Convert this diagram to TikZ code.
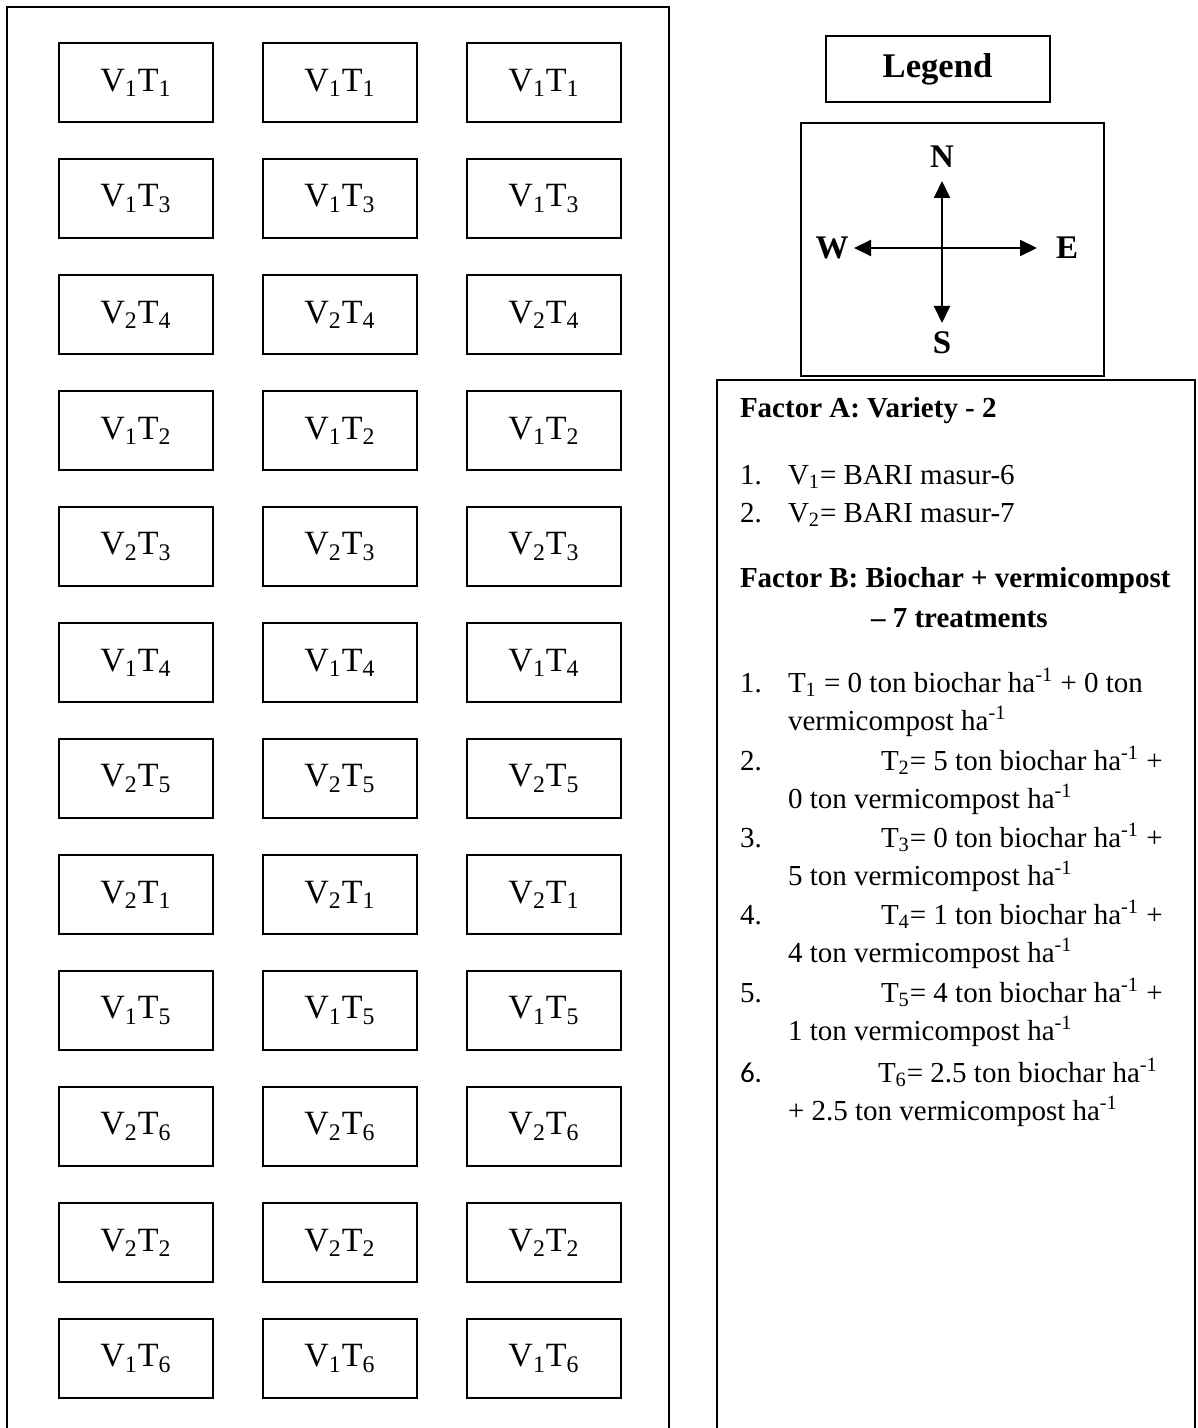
\documentclass[tikz,border=0pt]{standalone}
\usepackage{fontspec}
\setmainfont{Liberation Serif}
\newfontfamily\calibri{Carlito}
\usetikzlibrary{arrows.meta}

\begin{document}
\begin{tikzpicture}[x=0.5pt, y=-0.5pt, line width=1pt,
		plotbox/.style={draw, minimum width=77pt, minimum height=39.5pt, inner sep=0pt, font=\fontsize{17}{20}\selectfont},
		txt/.style={anchor=base west, inner sep=0pt, font=\fontsize{14.5}{17}\selectfont},
		head/.style={txt, font=\fontsize{14.5}{17}\selectfont\bfseries},
		dir/.style={inner sep=0pt, font=\fontsize{16.5}{19}\selectfont\bfseries}]
	\useasboundingbox (0,0) rectangle (1198,1428);
	
	% Field Frame
	\draw (7,1428) -- (7,7) -- (669,7) -- (669,1428);
	
	% Plots (3 replications per row)
	\foreach \v/\t [count=\r from 0] in {1/1, 1/3, 2/4, 1/2, 2/3, 1/4, 2/5, 2/1, 1/5, 2/6, 2/2, 1/6} {
		\foreach \c/\x in {1/136, 2/340, 3/544} {
			\node[plotbox] (p\r-\c) at (\x, {82.5+116*\r}) {V\textsubscript{\v}T\textsubscript{\t}};
		}
	}
	
	% Legend Title
	\node[draw, minimum width=112pt, minimum height=33pt, inner sep=0pt, font=\fontsize{17.3}{20}\selectfont\bfseries] (legend) at (937.5,69.5) {Legend};
	
	% Compass
	\draw[line width=0.8pt] (801,123) rectangle (1104,376);
	\coordinate (c) at (942,248);
	\node[dir] (N) at (942,157) {N};
	\node[dir] (S) at (942,343) {S};
	\node[dir] (W) at (832,248) {W};
	\node[dir] (E) at (1067,248) {E};
	\coordinate (tipN) at (942,181);
	\coordinate (tipS) at (942,323);
	\coordinate (tipW) at (854,248);
	\coordinate (tipE) at (1037,248);
	\foreach \d in {N, S, W, E} {
		\draw[-{Triangle[length=8.5pt, width=8pt]}] (c) -- (tip\d);
	}
	
	% Factor Panel
	\draw (717,1428) -- (717,380) -- (1195,380) -- (1195,1428);
	\node[head] (fa) at (739,417) {Factor A: Variety - 2};
	\node[txt] (n1) at (739,484) {1.};
	\node[txt] (v1) at (787,484) {V\textsubscript{1}= BARI masur-6};
	\node[txt] (n2) at (739,522) {2.};
	\node[txt] (v2) at (787,522) {V\textsubscript{2}= BARI masur-7};
	\node[head] (fb) at (739,587) {Factor B: Biochar + vermicompost};
	\node[head] (fb2) at (870,627) {-- 7 treatments};
	
	% Treatments
	\node[txt] (m1) at (739,692) {1.};
	\node[txt] (t1a) at (787,692) {T\textsubscript{1} = 0 ton biochar ha\textsuperscript{-1} + 0 ton};
	\node[txt] (t1b) at (787,730) {vermicompost ha\textsuperscript{-1}};
	\foreach \n/\y/\a/\b in {2/770/5/0, 3/847/0/5, 4/924/1/4, 5/1002/4/1} {
		\node[txt] (m\n) at (739,\y) {\n.};
		\node[txt] (t\n a) at (880,\y) {T\textsubscript{\n}= \a\ ton biochar ha\textsuperscript{-1} +};
		\node[txt] (t\n b) at (787,{\y+38}) {\b\ ton vermicompost ha\textsuperscript{-1}};
	}
	\node[txt, font=\fontsize{14.5}{17}\calibri] (m6) at (739,1082) {6.};
	\node[txt] (t6a) at (877,1082) {T\textsubscript{6}= 2.5 ton biochar ha\textsuperscript{-1}};
	\node[txt] (t6b) at (787,1120) {+ 2.5 ton vermicompost ha\textsuperscript{-1}};
\end{tikzpicture}
\end{document}
